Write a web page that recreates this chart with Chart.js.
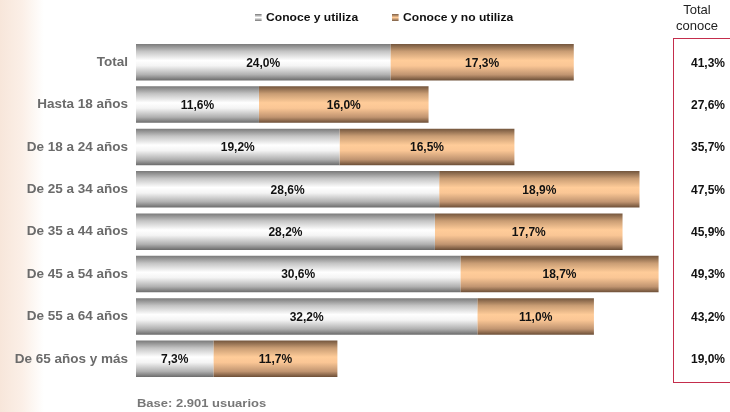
<!DOCTYPE html>
<html lang="es">
<head>
<meta charset="UTF-8">
<title>Conoce y utiliza</title>
<script src="https://cdn.jsdelivr.net/npm/chart.js"></script>
<style>
    body {
        margin: 0;
        width: 730px;
        height: 412px;
        overflow: hidden;
        font-family: "Liberation Sans", Arial, sans-serif;
        background: linear-gradient(to right, #f7e6da 0px, #fbefe7 22px, #fdf8f4 34px, #ffffff 44px);
        position: relative;
    }
    #wrap { position: absolute; left: 0; top: 0; width: 730px; height: 412px; }
    .legend {
        position: absolute; top: 11px; font-size: 11px; font-weight: bold; color: #111;
        display: flex; align-items: center; white-space: nowrap;
        transform: scaleX(1.1); transform-origin: left center;
    }
    .sw { width: 6px; height: 7px; margin-right: 4px; display: inline-block; }
    .sw.grey { background: linear-gradient(#777, #fff 50%, #777); }
    .sw.orange { background: linear-gradient(#7a5c44, #ffcc99 50%, #7a5c44); }
    #head {
        position: absolute; left: 667px; top: 2px; width: 60px; text-align: center;
        font-size: 13px; line-height: 16px; color: #222;
    }
    #base {
        position: absolute; left: 137px; top: 397px; font-size: 11px; font-weight: bold; color: #777;
        white-space: nowrap; transform: scaleX(1.18); transform-origin: left center;
    }
</style>
</head>
<body>
<div id="wrap"><canvas id="chart" width="730" height="412"></canvas></div>
<div class="legend" style="left:255px"><span class="sw grey"></span>Conoce y utiliza</div>
<div class="legend" style="left:392px"><span class="sw orange"></span>Conoce y no utiliza</div>
<div id="head">Total<br>conoce</div>
<div id="base">Base: 2.901 usuarios</div>
<script>
const categories = ['Total', 'Hasta 18 años', 'De 18 a 24 años', 'De 25 a 34 años',
    'De 35 a 44 años', 'De 45 a 54 años', 'De 55 a 64 años', 'De 65 años y más'];
const conoceUtiliza = [24.0, 11.6, 19.2, 28.6, 28.2, 30.6, 32.2, 7.3];
const conoceNoUtiliza = [17.3, 16.0, 16.5, 18.9, 17.7, 18.7, 11.0, 11.7];
const totalConoce = [41.3, 27.6, 35.7, 47.5, 45.9, 49.3, 43.2, 19.0];

const fmt = v => v.toFixed(1).replace('.', ',') + '%';

// vertical "cylinder" gradient per bar
function barFill(stops, fallback) {
    return ctx => {
        const chart = ctx.chart;
        if (!chart.chartArea || !chart.scales.y) return fallback;
        const y = chart.scales.y.getPixelForValue(ctx.dataIndex);
        const h = 18;
        const g = chart.ctx.createLinearGradient(0, y - h, 0, y + h);
        stops.forEach(s => g.addColorStop(s[0], s[1]));
        return g;
    };
}

const greyStops = [[0, '#7c7c7c'], [0.2, '#c4c4c4'], [0.45, '#ffffff'], [0.6, '#f4f4f4'], [0.85, '#b0b0b0'], [1, '#6e6e6e']];
const orangeStops = [[0, '#76583f'], [0.2, '#c99d74'], [0.45, '#ffcc99'], [0.6, '#fac695'], [0.85, '#c09470'], [1, '#6f5139']];

const labelsPlugin = {
    id: 'labels',
    afterDatasetsDraw(chart) {
        const c = chart.ctx;
        c.save();
        c.font = 'bold 12px "Liberation Sans", Arial, sans-serif';
        c.fillStyle = '#111';
        c.textAlign = 'center';
        c.textBaseline = 'middle';
        chart.data.datasets.forEach((ds, di) => {
            chart.getDatasetMeta(di).data.forEach((bar, i) => {
                c.fillText(fmt(ds.data[i]), (bar.x + bar.base) / 2, bar.y + 1);
            });
        });
        // totals box
        c.strokeStyle = '#c42d4c';
        c.lineWidth = 1;
        c.strokeRect(673.5, 38.5, 70, 344);
        c.font = 'bold 12px "Liberation Sans", Arial, sans-serif';
        const y = chart.scales.y;
        totalConoce.forEach((v, i) => {
            c.fillText(fmt(v), 708, y.getPixelForValue(i) + 1);
        });
        c.restore();
    }
};

new Chart(document.getElementById('chart'), {
    type: 'bar',
    data: {
        labels: categories,
        datasets: [
            { label: 'Conoce y utiliza', data: conoceUtiliza, backgroundColor: barFill(greyStops, '#ccc') },
            { label: 'Conoce y no utiliza', data: conoceNoUtiliza, backgroundColor: barFill(orangeStops, '#f0b880') }
        ]
    },
    options: {
        indexAxis: 'y',
        responsive: false,
        animation: false,
        layout: { padding: { top: 41, bottom: 32, right: 64, left: 0 } },
        datasets: { bar: { categoryPercentage: 1, barPercentage: 0.86, borderWidth: 0 } },
        scales: {
            x: { stacked: true, min: 0, max: 50, display: false },
            y: {
                stacked: true,
                grid: { display: false, drawTicks: false },
                border: { display: false },
                ticks: {
                    color: '#6b6b6b',
                    padding: 8,
                    font: { family: '"Liberation Sans", Arial, sans-serif', size: 13.5, weight: 'bold' }
                },
                afterFit(scale) { scale.width = 136; }
            }
        },
        plugins: { legend: { display: false }, tooltip: { enabled: false } }
    },
    plugins: [labelsPlugin]
});
</script>
</body>
</html>
